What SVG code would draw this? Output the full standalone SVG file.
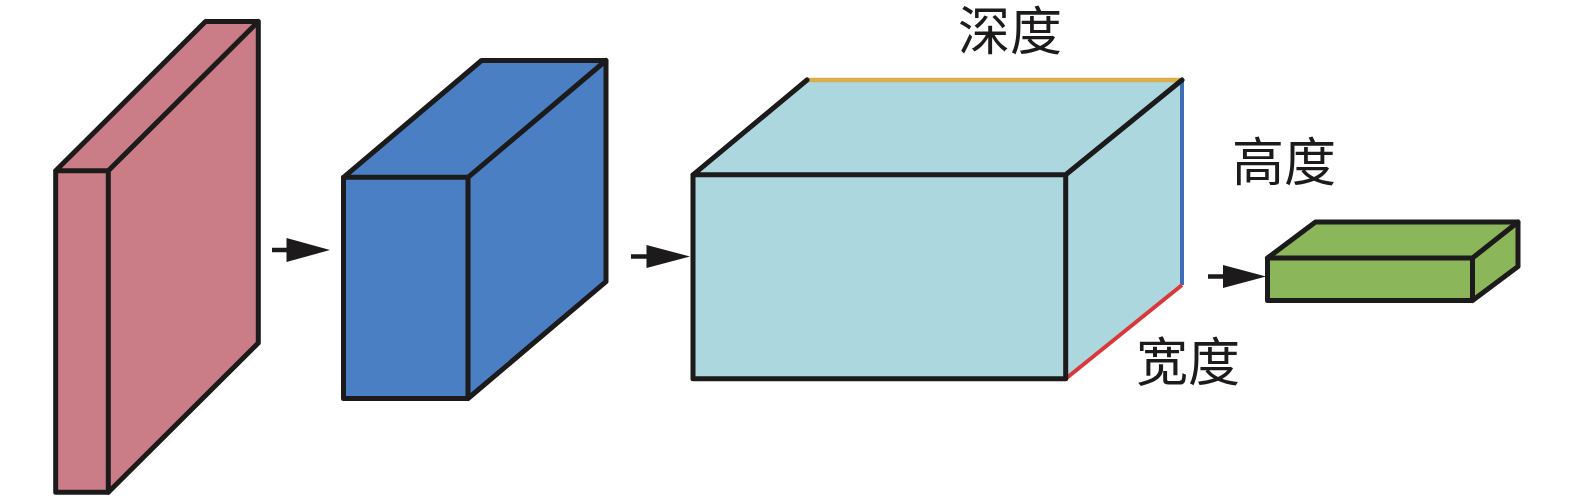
<svg xmlns="http://www.w3.org/2000/svg" width="1575" height="496" viewBox="0 0 1575 496">
<style>
.e{stroke:#1c1a1a;stroke-width:5;stroke-linejoin:round;stroke-linecap:round;fill:none}
.lbl{font-family:"Noto Sans CJK SC","Noto Sans",sans-serif;font-size:52px;fill:#1c1a1a;text-anchor:middle}
.arr{stroke:#1c1a1a;stroke-width:4.5;fill:none}
.head{fill:#1c1a1a}
</style>
<rect width="1575" height="496" fill="#ffffff"/>
<g id="box-input">
<polygon points="55.7,170.7 205.5,21.5 258.3,21.5 108.3,170.7" fill="#cb7d87"/>
<polygon points="108.3,170.7 258.3,21.5 258.3,343 108.3,492.3" fill="#cb7d87"/>
<rect x="55.7" y="170.7" width="52.6" height="321.6" fill="#cb7d87"/>
<path class="e" d="M55.7,170.7 L205.5,21.5 L258.3,21.5 L258.3,343 L108.3,492.3 M108.3,170.7 L258.3,21.5 M55.7,170.7 H108.3 V492.3 H55.7 Z"/>
</g>
<g id="box-conv1">
<polygon points="343.5,177.3 481.5,60.5 606,60.5 468,177.3" fill="#4a7fc3"/>
<polygon points="468,177.3 606,60.5 606,281.7 468,398.5" fill="#4a7fc3"/>
<rect x="343.5" y="177.3" width="124.5" height="221.2" fill="#4a7fc3"/>
<path class="e" d="M343.5,177.3 L481.5,60.5 L606,60.5 L606,281.7 L468,398.5 M468,177.3 L606,60.5 M343.5,177.3 H468 V398.5 H343.5 Z"/>
</g>
<g id="box-conv2">
<polygon points="693,174.8 807,80 1182,80 1065.7,174.8" fill="#acd7de"/>
<polygon points="1065.7,174.8 1182,80 1182,285 1065.7,378.7" fill="#acd7de"/>
<rect x="693" y="174.8" width="372.7" height="203.9" fill="#acd7de"/>
<line x1="807" y1="80" x2="1182" y2="80" stroke="#d9ae4b" stroke-width="4.5"/>
<line x1="1182" y1="80" x2="1182" y2="285" stroke="#3e6cb5" stroke-width="4"/>
<line x1="1065.7" y1="378.7" x2="1182" y2="285" stroke="#d8383a" stroke-width="4"/>
<path class="e" d="M693,174.8 L807,80 M1065.7,174.8 L1182,80 M693,174.8 H1065.7 V378.7 H693 Z"/>
</g>
<g id="box-output">
<polygon points="1267.5,258 1315.5,222 1518,222 1472.5,258" fill="#8bb65a"/>
<polygon points="1472.5,258 1518,222 1518,266.5 1472.5,300.5" fill="#8bb65a"/>
<rect x="1267.5" y="258" width="205" height="42.5" fill="#8bb65a"/>
<path class="e" d="M1267.5,258 L1315.5,222 L1518,222 L1518,266.5 L1472.5,300.5 M1472.5,258 L1518,222 M1267.5,258 H1472.5 V300.5 H1267.5 Z"/>
</g>
<g id="connectors">
<line class="arr" x1="272" y1="250" x2="290" y2="250"/>
<polygon class="head" points="286.5,238 330,250 286.5,262"/>
<line class="arr" x1="631" y1="256.5" x2="650" y2="256.5"/>
<polygon class="head" points="646.5,245 690,256.5 646.5,268"/>
<line class="arr" x1="1208" y1="276.5" x2="1226" y2="276.5"/>
<polygon class="head" points="1223,265 1266,276.5 1223,288"/>
</g>
<g id="labels">
<text class="lbl" x="1010" y="50">深度</text>
<text class="lbl" x="1284" y="181">高度</text>
<text class="lbl" x="1188" y="381">宽度</text>
</g>
</svg>
